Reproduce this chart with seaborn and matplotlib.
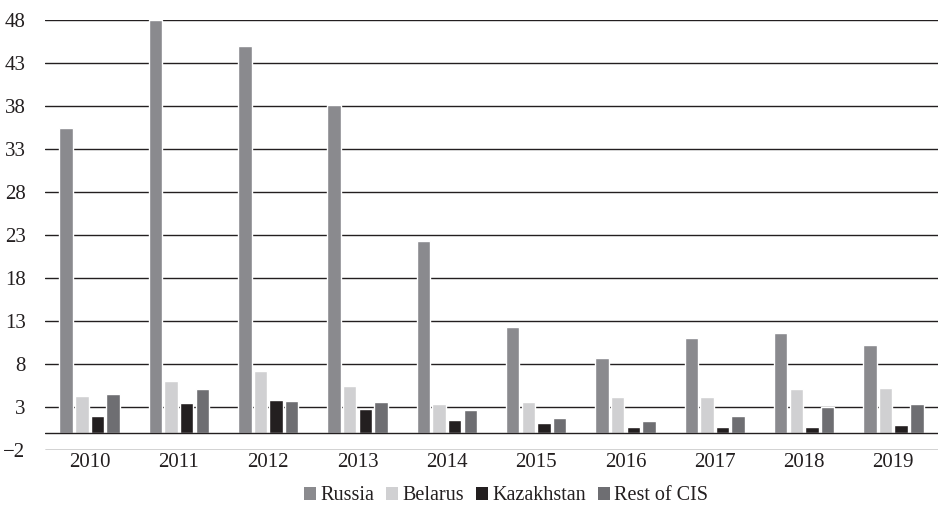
import matplotlib
matplotlib.use("Agg")
import matplotlib.pyplot as plt
import seaborn as sns
import pandas as pd
from matplotlib.patches import Patch

years = ["2010", "2011", "2012", "2013", "2014", "2015", "2016", "2017", "2018", "2019"]
russia = [35.4, 48.0, 45.0, 38.1, 22.3, 12.3, 8.7, 11.0, 11.6, 10.2]
belarus = [4.3, 6.0, 7.2, 5.5, 3.3, 3.6, 4.2, 4.2, 5.1, 5.2]
kazakhstan = [2.0, 3.5, 3.8, 2.8, 1.5, 1.1, 0.7, 0.7, 0.7, 0.9]
rest_of_cis = [4.5, 5.1, 3.7, 3.6, 2.65, 1.7, 1.4, 2.0, 3.0, 3.35]
series_names = ["Russia", "Belarus", "Kazakhstan", "Rest of CIS"]
y_ticks = [-2, 3, 8, 13, 18, 23, 28, 33, 38, 43, 48]

colors = ["#8a8a8e", "#d0d0d2", "#231f20", "#6e6e72"]

rows = []
for name, vals in zip(series_names, [russia, belarus, kazakhstan, rest_of_cis]):
    for y, v in zip(years, vals):
        rows.append({"year": y, "series": name, "value": v})
df = pd.DataFrame(rows)

sns.set_theme(style="white")
plt.rcParams["font.family"] = ["Liberation Serif", "DejaVu Serif"]

fig = plt.figure(figsize=(9.38, 5.05), dpi=100)
ax = fig.add_axes([45 / 938, 55 / 505, 893 / 938, 430 / 505])

sns.barplot(data=df, x="year", y="value", hue="series", order=years,
            hue_order=series_names, palette=colors, width=0.7, gap=0.14,
            saturation=1, legend=False, ax=ax, zorder=3)

ax.set_ylim(-2, 48)
ax.set_yticks(y_ticks)
ax.set_yticklabels([f"\u2212{abs(t)}" if t < 0 else str(t) for t in y_ticks])
ax.set_xlim(-0.5, len(years) - 0.5)
for t in y_ticks:
    ax.axhline(t, color="#231f20", lw=1.0, zorder=1)
ax.axhline(0, color="#231f20", lw=1.0, zorder=4)

for s in ax.spines.values():
    s.set_visible(False)
ax.tick_params(axis="both", length=0, labelsize=15, colors="#231f20")
ax.tick_params(axis="y", pad=14)
ax.tick_params(axis="x", pad=2)
ax.set_xlabel("")
ax.set_ylabel("")

handles = [Patch(facecolor=c, edgecolor="none") for c in colors]
fig.legend(handles, series_names, loc="center", bbox_to_anchor=(506 / 938, 1 - 496 / 505),
           ncol=4, frameon=False, fontsize=14.5, handlelength=0.6, handleheight=0.6,
           handletextpad=0.2, columnspacing=0.6, labelcolor="#231f20")

fig.savefig("out.png", dpi=100)
